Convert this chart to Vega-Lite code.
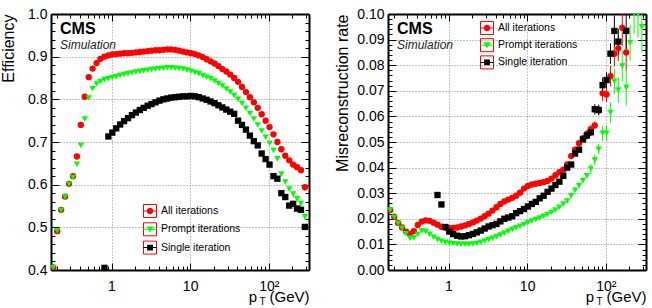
{
  "$schema": "https://vega.github.io/schema/vega-lite/v6.json",
  "autosize": {"type": "none"},
  "padding": {"left": 51, "top": 14, "right": 601, "bottom": 294},
  "bounds": "flush",
  "spacing": 79,
  "config": {
    "font": "Liberation Sans",
    "view": {"stroke": null},
    "axis": {
      "labelFont": "Liberation Sans",
      "titleFont": "Liberation Sans",
      "labelColor": "black",
      "titleColor": "black",
      "tickColor": "black",
      "domainColor": "black",
      "labelFontSize": 14,
      "titleFontWeight": "normal",
      "labelFlush": false,
      "labelOverlap": false,
      "tickWidth": 1
    },
    "legend": {"labelFont": "Liberation Sans", "labelColor": "black", "labelFontSize": 10.5}
  },
  "datasets": {
    "efficiency": [
      {"s": "All iterations", "pt": 0.182, "v": 0.406, "e": 0.001},
      {"s": "All iterations", "pt": 0.204, "v": 0.491, "e": 0.001},
      {"s": "All iterations", "pt": 0.229, "v": 0.541, "e": 0.001},
      {"s": "All iterations", "pt": 0.257, "v": 0.572, "e": 0.001},
      {"s": "All iterations", "pt": 0.288, "v": 0.602, "e": 0.001},
      {"s": "All iterations", "pt": 0.324, "v": 0.620, "e": 0.001},
      {"s": "All iterations", "pt": 0.363, "v": 0.666, "e": 0.001},
      {"s": "All iterations", "pt": 0.407, "v": 0.740, "e": 0.001},
      {"s": "All iterations", "pt": 0.457, "v": 0.806, "e": 0.001},
      {"s": "All iterations", "pt": 0.513, "v": 0.852, "e": 0.001},
      {"s": "All iterations", "pt": 0.575, "v": 0.872, "e": 0.001},
      {"s": "All iterations", "pt": 0.646, "v": 0.885, "e": 0.001},
      {"s": "All iterations", "pt": 0.724, "v": 0.895, "e": 0.001},
      {"s": "All iterations", "pt": 0.813, "v": 0.900, "e": 0.001},
      {"s": "All iterations", "pt": 0.912, "v": 0.903, "e": 0.001},
      {"s": "All iterations", "pt": 1.023, "v": 0.905, "e": 0.001},
      {"s": "All iterations", "pt": 1.148, "v": 0.906, "e": 0.001},
      {"s": "All iterations", "pt": 1.288, "v": 0.907, "e": 0.001},
      {"s": "All iterations", "pt": 1.445, "v": 0.908, "e": 0.001},
      {"s": "All iterations", "pt": 1.622, "v": 0.908, "e": 0.001},
      {"s": "All iterations", "pt": 1.820, "v": 0.909, "e": 0.001},
      {"s": "All iterations", "pt": 2.042, "v": 0.910, "e": 0.001},
      {"s": "All iterations", "pt": 2.291, "v": 0.911, "e": 0.001},
      {"s": "All iterations", "pt": 2.570, "v": 0.912, "e": 0.001},
      {"s": "All iterations", "pt": 2.884, "v": 0.913, "e": 0.001},
      {"s": "All iterations", "pt": 3.236, "v": 0.914, "e": 0.001},
      {"s": "All iterations", "pt": 3.631, "v": 0.915, "e": 0.001},
      {"s": "All iterations", "pt": 4.074, "v": 0.915, "e": 0.001},
      {"s": "All iterations", "pt": 4.571, "v": 0.916, "e": 0.001},
      {"s": "All iterations", "pt": 5.129, "v": 0.917, "e": 0.001},
      {"s": "All iterations", "pt": 5.754, "v": 0.917, "e": 0.001},
      {"s": "All iterations", "pt": 6.457, "v": 0.916, "e": 0.001},
      {"s": "All iterations", "pt": 7.244, "v": 0.914, "e": 0.001},
      {"s": "All iterations", "pt": 8.128, "v": 0.912, "e": 0.001},
      {"s": "All iterations", "pt": 9.120, "v": 0.910, "e": 0.001},
      {"s": "All iterations", "pt": 10.23, "v": 0.908, "e": 0.001},
      {"s": "All iterations", "pt": 11.48, "v": 0.906, "e": 0.001},
      {"s": "All iterations", "pt": 12.88, "v": 0.903, "e": 0.001},
      {"s": "All iterations", "pt": 14.45, "v": 0.899, "e": 0.001},
      {"s": "All iterations", "pt": 16.22, "v": 0.894, "e": 0.001},
      {"s": "All iterations", "pt": 18.20, "v": 0.889, "e": 0.001},
      {"s": "All iterations", "pt": 20.42, "v": 0.884, "e": 0.001},
      {"s": "All iterations", "pt": 22.91, "v": 0.878, "e": 0.001},
      {"s": "All iterations", "pt": 25.70, "v": 0.871, "e": 0.001},
      {"s": "All iterations", "pt": 28.84, "v": 0.865, "e": 0.001},
      {"s": "All iterations", "pt": 32.36, "v": 0.858, "e": 0.001},
      {"s": "All iterations", "pt": 36.31, "v": 0.850, "e": 0.001},
      {"s": "All iterations", "pt": 40.74, "v": 0.841, "e": 0.001},
      {"s": "All iterations", "pt": 45.71, "v": 0.829, "e": 0.001},
      {"s": "All iterations", "pt": 51.29, "v": 0.817, "e": 0.001},
      {"s": "All iterations", "pt": 57.54, "v": 0.805, "e": 0.001},
      {"s": "All iterations", "pt": 64.57, "v": 0.793, "e": 0.002},
      {"s": "All iterations", "pt": 72.44, "v": 0.780, "e": 0.002},
      {"s": "All iterations", "pt": 81.28, "v": 0.765, "e": 0.002},
      {"s": "All iterations", "pt": 91.20, "v": 0.750, "e": 0.002},
      {"s": "All iterations", "pt": 102.3, "v": 0.735, "e": 0.002},
      {"s": "All iterations", "pt": 114.8, "v": 0.718, "e": 0.004},
      {"s": "All iterations", "pt": 128.8, "v": 0.700, "e": 0.004},
      {"s": "All iterations", "pt": 144.5, "v": 0.683, "e": 0.004},
      {"s": "All iterations", "pt": 162.2, "v": 0.668, "e": 0.004},
      {"s": "All iterations", "pt": 182.0, "v": 0.657, "e": 0.004},
      {"s": "All iterations", "pt": 204.2, "v": 0.647, "e": 0.007},
      {"s": "All iterations", "pt": 229.1, "v": 0.641, "e": 0.007},
      {"s": "All iterations", "pt": 257.0, "v": 0.634, "e": 0.007},
      {"s": "All iterations", "pt": 288.4, "v": 0.594, "e": 0.007},
      {"s": "Prompt iterations", "pt": 0.182, "v": 0.406, "e": 0.001},
      {"s": "Prompt iterations", "pt": 0.204, "v": 0.492, "e": 0.001},
      {"s": "Prompt iterations", "pt": 0.229, "v": 0.540, "e": 0.001},
      {"s": "Prompt iterations", "pt": 0.257, "v": 0.571, "e": 0.001},
      {"s": "Prompt iterations", "pt": 0.288, "v": 0.601, "e": 0.001},
      {"s": "Prompt iterations", "pt": 0.324, "v": 0.617, "e": 0.001},
      {"s": "Prompt iterations", "pt": 0.363, "v": 0.648, "e": 0.001},
      {"s": "Prompt iterations", "pt": 0.407, "v": 0.692, "e": 0.001},
      {"s": "Prompt iterations", "pt": 0.457, "v": 0.754, "e": 0.001},
      {"s": "Prompt iterations", "pt": 0.513, "v": 0.803, "e": 0.001},
      {"s": "Prompt iterations", "pt": 0.575, "v": 0.825, "e": 0.001},
      {"s": "Prompt iterations", "pt": 0.646, "v": 0.836, "e": 0.001},
      {"s": "Prompt iterations", "pt": 0.724, "v": 0.842, "e": 0.001},
      {"s": "Prompt iterations", "pt": 0.813, "v": 0.846, "e": 0.001},
      {"s": "Prompt iterations", "pt": 0.912, "v": 0.848, "e": 0.001},
      {"s": "Prompt iterations", "pt": 1.023, "v": 0.851, "e": 0.001},
      {"s": "Prompt iterations", "pt": 1.148, "v": 0.853, "e": 0.001},
      {"s": "Prompt iterations", "pt": 1.288, "v": 0.856, "e": 0.001},
      {"s": "Prompt iterations", "pt": 1.445, "v": 0.858, "e": 0.001},
      {"s": "Prompt iterations", "pt": 1.622, "v": 0.860, "e": 0.001},
      {"s": "Prompt iterations", "pt": 1.820, "v": 0.862, "e": 0.001},
      {"s": "Prompt iterations", "pt": 2.042, "v": 0.864, "e": 0.001},
      {"s": "Prompt iterations", "pt": 2.291, "v": 0.865, "e": 0.001},
      {"s": "Prompt iterations", "pt": 2.570, "v": 0.867, "e": 0.001},
      {"s": "Prompt iterations", "pt": 2.884, "v": 0.868, "e": 0.001},
      {"s": "Prompt iterations", "pt": 3.236, "v": 0.870, "e": 0.001},
      {"s": "Prompt iterations", "pt": 3.631, "v": 0.871, "e": 0.001},
      {"s": "Prompt iterations", "pt": 4.074, "v": 0.872, "e": 0.001},
      {"s": "Prompt iterations", "pt": 4.571, "v": 0.873, "e": 0.001},
      {"s": "Prompt iterations", "pt": 5.129, "v": 0.874, "e": 0.001},
      {"s": "Prompt iterations", "pt": 5.754, "v": 0.874, "e": 0.001},
      {"s": "Prompt iterations", "pt": 6.457, "v": 0.873, "e": 0.001},
      {"s": "Prompt iterations", "pt": 7.244, "v": 0.872, "e": 0.001},
      {"s": "Prompt iterations", "pt": 8.128, "v": 0.871, "e": 0.001},
      {"s": "Prompt iterations", "pt": 9.120, "v": 0.869, "e": 0.001},
      {"s": "Prompt iterations", "pt": 10.23, "v": 0.866, "e": 0.001},
      {"s": "Prompt iterations", "pt": 11.48, "v": 0.863, "e": 0.001},
      {"s": "Prompt iterations", "pt": 12.88, "v": 0.860, "e": 0.001},
      {"s": "Prompt iterations", "pt": 14.45, "v": 0.856, "e": 0.001},
      {"s": "Prompt iterations", "pt": 16.22, "v": 0.852, "e": 0.001},
      {"s": "Prompt iterations", "pt": 18.20, "v": 0.848, "e": 0.001},
      {"s": "Prompt iterations", "pt": 20.42, "v": 0.843, "e": 0.001},
      {"s": "Prompt iterations", "pt": 22.91, "v": 0.837, "e": 0.001},
      {"s": "Prompt iterations", "pt": 25.70, "v": 0.831, "e": 0.001},
      {"s": "Prompt iterations", "pt": 28.84, "v": 0.824, "e": 0.001},
      {"s": "Prompt iterations", "pt": 32.36, "v": 0.817, "e": 0.001},
      {"s": "Prompt iterations", "pt": 36.31, "v": 0.809, "e": 0.001},
      {"s": "Prompt iterations", "pt": 40.74, "v": 0.800, "e": 0.001},
      {"s": "Prompt iterations", "pt": 45.71, "v": 0.790, "e": 0.001},
      {"s": "Prompt iterations", "pt": 51.29, "v": 0.779, "e": 0.001},
      {"s": "Prompt iterations", "pt": 57.54, "v": 0.767, "e": 0.001},
      {"s": "Prompt iterations", "pt": 64.57, "v": 0.754, "e": 0.002},
      {"s": "Prompt iterations", "pt": 72.44, "v": 0.740, "e": 0.002},
      {"s": "Prompt iterations", "pt": 81.28, "v": 0.726, "e": 0.002},
      {"s": "Prompt iterations", "pt": 91.20, "v": 0.711, "e": 0.002},
      {"s": "Prompt iterations", "pt": 102.3, "v": 0.697, "e": 0.002},
      {"s": "Prompt iterations", "pt": 114.8, "v": 0.680, "e": 0.004},
      {"s": "Prompt iterations", "pt": 128.8, "v": 0.661, "e": 0.004},
      {"s": "Prompt iterations", "pt": 144.5, "v": 0.625, "e": 0.004},
      {"s": "Prompt iterations", "pt": 162.2, "v": 0.606, "e": 0.004},
      {"s": "Prompt iterations", "pt": 182.0, "v": 0.590, "e": 0.004},
      {"s": "Prompt iterations", "pt": 204.2, "v": 0.578, "e": 0.007},
      {"s": "Prompt iterations", "pt": 229.1, "v": 0.567, "e": 0.007},
      {"s": "Prompt iterations", "pt": 257.0, "v": 0.556, "e": 0.007},
      {"s": "Prompt iterations", "pt": 288.4, "v": 0.525, "e": 0.007},
      {"s": "Single iteration", "pt": 0.813, "v": 0.405, "e": 0.004},
      {"s": "Single iteration", "pt": 0.912, "v": 0.713, "e": 0.001},
      {"s": "Single iteration", "pt": 1.023, "v": 0.722, "e": 0.001},
      {"s": "Single iteration", "pt": 1.148, "v": 0.732, "e": 0.001},
      {"s": "Single iteration", "pt": 1.288, "v": 0.741, "e": 0.001},
      {"s": "Single iteration", "pt": 1.445, "v": 0.749, "e": 0.001},
      {"s": "Single iteration", "pt": 1.622, "v": 0.756, "e": 0.001},
      {"s": "Single iteration", "pt": 1.820, "v": 0.763, "e": 0.001},
      {"s": "Single iteration", "pt": 2.042, "v": 0.769, "e": 0.001},
      {"s": "Single iteration", "pt": 2.291, "v": 0.775, "e": 0.001},
      {"s": "Single iteration", "pt": 2.570, "v": 0.780, "e": 0.001},
      {"s": "Single iteration", "pt": 2.884, "v": 0.785, "e": 0.001},
      {"s": "Single iteration", "pt": 3.236, "v": 0.789, "e": 0.001},
      {"s": "Single iteration", "pt": 3.631, "v": 0.793, "e": 0.001},
      {"s": "Single iteration", "pt": 4.074, "v": 0.797, "e": 0.001},
      {"s": "Single iteration", "pt": 4.571, "v": 0.800, "e": 0.001},
      {"s": "Single iteration", "pt": 5.129, "v": 0.802, "e": 0.001},
      {"s": "Single iteration", "pt": 5.754, "v": 0.804, "e": 0.001},
      {"s": "Single iteration", "pt": 6.457, "v": 0.805, "e": 0.001},
      {"s": "Single iteration", "pt": 7.244, "v": 0.806, "e": 0.001},
      {"s": "Single iteration", "pt": 8.128, "v": 0.807, "e": 0.001},
      {"s": "Single iteration", "pt": 9.120, "v": 0.807, "e": 0.001},
      {"s": "Single iteration", "pt": 10.23, "v": 0.808, "e": 0.001},
      {"s": "Single iteration", "pt": 11.48, "v": 0.807, "e": 0.001},
      {"s": "Single iteration", "pt": 12.88, "v": 0.805, "e": 0.001},
      {"s": "Single iteration", "pt": 14.45, "v": 0.802, "e": 0.001},
      {"s": "Single iteration", "pt": 16.22, "v": 0.799, "e": 0.001},
      {"s": "Single iteration", "pt": 18.20, "v": 0.795, "e": 0.001},
      {"s": "Single iteration", "pt": 20.42, "v": 0.791, "e": 0.001},
      {"s": "Single iteration", "pt": 22.91, "v": 0.786, "e": 0.001},
      {"s": "Single iteration", "pt": 25.70, "v": 0.781, "e": 0.001},
      {"s": "Single iteration", "pt": 28.84, "v": 0.776, "e": 0.001},
      {"s": "Single iteration", "pt": 32.36, "v": 0.771, "e": 0.001},
      {"s": "Single iteration", "pt": 36.31, "v": 0.766, "e": 0.001},
      {"s": "Single iteration", "pt": 40.74, "v": 0.750, "e": 0.001},
      {"s": "Single iteration", "pt": 45.71, "v": 0.740, "e": 0.001},
      {"s": "Single iteration", "pt": 51.29, "v": 0.729, "e": 0.001},
      {"s": "Single iteration", "pt": 57.54, "v": 0.715, "e": 0.001},
      {"s": "Single iteration", "pt": 64.57, "v": 0.702, "e": 0.002},
      {"s": "Single iteration", "pt": 72.44, "v": 0.692, "e": 0.002},
      {"s": "Single iteration", "pt": 81.28, "v": 0.673, "e": 0.002},
      {"s": "Single iteration", "pt": 91.20, "v": 0.660, "e": 0.002},
      {"s": "Single iteration", "pt": 102.3, "v": 0.647, "e": 0.002},
      {"s": "Single iteration", "pt": 114.8, "v": 0.620, "e": 0.004},
      {"s": "Single iteration", "pt": 128.8, "v": 0.614, "e": 0.004},
      {"s": "Single iteration", "pt": 144.5, "v": 0.580, "e": 0.004},
      {"s": "Single iteration", "pt": 162.2, "v": 0.571, "e": 0.004},
      {"s": "Single iteration", "pt": 182.0, "v": 0.551, "e": 0.004},
      {"s": "Single iteration", "pt": 204.2, "v": 0.555, "e": 0.007},
      {"s": "Single iteration", "pt": 229.1, "v": 0.544, "e": 0.007},
      {"s": "Single iteration", "pt": 257.0, "v": 0.541, "e": 0.007},
      {"s": "Single iteration", "pt": 288.4, "v": 0.501, "e": 0.007}
    ],
    "misreco": [
      {"s": "All iterations", "pt": 0.182, "v": 0.0234, "e": 0.0004},
      {"s": "All iterations", "pt": 0.204, "v": 0.0208, "e": 0.0004},
      {"s": "All iterations", "pt": 0.229, "v": 0.0184, "e": 0.0004},
      {"s": "All iterations", "pt": 0.257, "v": 0.0166, "e": 0.0004},
      {"s": "All iterations", "pt": 0.288, "v": 0.0150, "e": 0.0004},
      {"s": "All iterations", "pt": 0.324, "v": 0.0141, "e": 0.0004},
      {"s": "All iterations", "pt": 0.363, "v": 0.0152, "e": 0.0004},
      {"s": "All iterations", "pt": 0.407, "v": 0.0176, "e": 0.0004},
      {"s": "All iterations", "pt": 0.457, "v": 0.0189, "e": 0.0004},
      {"s": "All iterations", "pt": 0.513, "v": 0.0194, "e": 0.0004},
      {"s": "All iterations", "pt": 0.575, "v": 0.0192, "e": 0.0004},
      {"s": "All iterations", "pt": 0.646, "v": 0.0185, "e": 0.0004},
      {"s": "All iterations", "pt": 0.724, "v": 0.0177, "e": 0.0004},
      {"s": "All iterations", "pt": 0.813, "v": 0.0169, "e": 0.0004},
      {"s": "All iterations", "pt": 0.912, "v": 0.0165, "e": 0.0004},
      {"s": "All iterations", "pt": 1.023, "v": 0.0163, "e": 0.0004},
      {"s": "All iterations", "pt": 1.148, "v": 0.0164, "e": 0.0004},
      {"s": "All iterations", "pt": 1.288, "v": 0.0166, "e": 0.0004},
      {"s": "All iterations", "pt": 1.445, "v": 0.0170, "e": 0.0004},
      {"s": "All iterations", "pt": 1.622, "v": 0.0174, "e": 0.0004},
      {"s": "All iterations", "pt": 1.820, "v": 0.0180, "e": 0.0004},
      {"s": "All iterations", "pt": 2.042, "v": 0.0186, "e": 0.0004},
      {"s": "All iterations", "pt": 2.291, "v": 0.0193, "e": 0.0004},
      {"s": "All iterations", "pt": 2.570, "v": 0.0201, "e": 0.0004},
      {"s": "All iterations", "pt": 2.884, "v": 0.0210, "e": 0.0004},
      {"s": "All iterations", "pt": 3.236, "v": 0.0220, "e": 0.0004},
      {"s": "All iterations", "pt": 3.631, "v": 0.0232, "e": 0.0004},
      {"s": "All iterations", "pt": 4.074, "v": 0.0245, "e": 0.0004},
      {"s": "All iterations", "pt": 4.571, "v": 0.0258, "e": 0.0004},
      {"s": "All iterations", "pt": 5.129, "v": 0.0268, "e": 0.0004},
      {"s": "All iterations", "pt": 5.754, "v": 0.0275, "e": 0.0004},
      {"s": "All iterations", "pt": 6.457, "v": 0.0282, "e": 0.0004},
      {"s": "All iterations", "pt": 7.244, "v": 0.0290, "e": 0.0004},
      {"s": "All iterations", "pt": 8.128, "v": 0.0302, "e": 0.0004},
      {"s": "All iterations", "pt": 9.120, "v": 0.0318, "e": 0.0004},
      {"s": "All iterations", "pt": 10.23, "v": 0.0328, "e": 0.0004},
      {"s": "All iterations", "pt": 11.48, "v": 0.0334, "e": 0.0004},
      {"s": "All iterations", "pt": 12.88, "v": 0.0337, "e": 0.0004},
      {"s": "All iterations", "pt": 14.45, "v": 0.0340, "e": 0.0004},
      {"s": "All iterations", "pt": 16.22, "v": 0.0343, "e": 0.0004},
      {"s": "All iterations", "pt": 18.20, "v": 0.0348, "e": 0.0004},
      {"s": "All iterations", "pt": 20.42, "v": 0.0357, "e": 0.0004},
      {"s": "All iterations", "pt": 22.91, "v": 0.0370, "e": 0.0004},
      {"s": "All iterations", "pt": 25.70, "v": 0.0382, "e": 0.0004},
      {"s": "All iterations", "pt": 28.84, "v": 0.0392, "e": 0.0004},
      {"s": "All iterations", "pt": 32.36, "v": 0.0412, "e": 0.001},
      {"s": "All iterations", "pt": 36.31, "v": 0.0445, "e": 0.001},
      {"s": "All iterations", "pt": 40.74, "v": 0.0470, "e": 0.001},
      {"s": "All iterations", "pt": 45.71, "v": 0.0495, "e": 0.001},
      {"s": "All iterations", "pt": 51.29, "v": 0.0515, "e": 0.001},
      {"s": "All iterations", "pt": 57.54, "v": 0.0532, "e": 0.0015},
      {"s": "All iterations", "pt": 64.57, "v": 0.0550, "e": 0.0015},
      {"s": "All iterations", "pt": 72.44, "v": 0.0565, "e": 0.0015},
      {"s": "All iterations", "pt": 81.28, "v": 0.0625, "e": 0.002},
      {"s": "All iterations", "pt": 91.20, "v": 0.0690, "e": 0.003},
      {"s": "All iterations", "pt": 102.3, "v": 0.0686, "e": 0.003},
      {"s": "All iterations", "pt": 114.8, "v": 0.0757, "e": 0.004},
      {"s": "All iterations", "pt": 128.8, "v": 0.0845, "e": 0.005},
      {"s": "All iterations", "pt": 144.5, "v": 0.0866, "e": 0.005},
      {"s": "All iterations", "pt": 162.2, "v": 0.0946, "e": 0.007},
      {"s": "All iterations", "pt": 182.0, "v": 0.0850, "e": 0.007},
      {"s": "Prompt iterations", "pt": 0.182, "v": 0.0234, "e": 0.0004},
      {"s": "Prompt iterations", "pt": 0.204, "v": 0.0206, "e": 0.0004},
      {"s": "Prompt iterations", "pt": 0.229, "v": 0.0182, "e": 0.0004},
      {"s": "Prompt iterations", "pt": 0.257, "v": 0.0163, "e": 0.0004},
      {"s": "Prompt iterations", "pt": 0.288, "v": 0.0142, "e": 0.0004},
      {"s": "Prompt iterations", "pt": 0.324, "v": 0.0124, "e": 0.0004},
      {"s": "Prompt iterations", "pt": 0.363, "v": 0.0126, "e": 0.0004},
      {"s": "Prompt iterations", "pt": 0.407, "v": 0.0140, "e": 0.0004},
      {"s": "Prompt iterations", "pt": 0.457, "v": 0.0153, "e": 0.0004},
      {"s": "Prompt iterations", "pt": 0.513, "v": 0.0150, "e": 0.0004},
      {"s": "Prompt iterations", "pt": 0.575, "v": 0.0140, "e": 0.0004},
      {"s": "Prompt iterations", "pt": 0.646, "v": 0.0128, "e": 0.0004},
      {"s": "Prompt iterations", "pt": 0.724, "v": 0.0119, "e": 0.0004},
      {"s": "Prompt iterations", "pt": 0.813, "v": 0.0112, "e": 0.0004},
      {"s": "Prompt iterations", "pt": 0.912, "v": 0.0108, "e": 0.0004},
      {"s": "Prompt iterations", "pt": 1.023, "v": 0.0105, "e": 0.0004},
      {"s": "Prompt iterations", "pt": 1.148, "v": 0.0103, "e": 0.0004},
      {"s": "Prompt iterations", "pt": 1.288, "v": 0.0102, "e": 0.0004},
      {"s": "Prompt iterations", "pt": 1.445, "v": 0.0101, "e": 0.0004},
      {"s": "Prompt iterations", "pt": 1.622, "v": 0.0101, "e": 0.0004},
      {"s": "Prompt iterations", "pt": 1.820, "v": 0.0101, "e": 0.0004},
      {"s": "Prompt iterations", "pt": 2.042, "v": 0.0102, "e": 0.0004},
      {"s": "Prompt iterations", "pt": 2.291, "v": 0.0104, "e": 0.0004},
      {"s": "Prompt iterations", "pt": 2.570, "v": 0.0108, "e": 0.0004},
      {"s": "Prompt iterations", "pt": 2.884, "v": 0.0113, "e": 0.0004},
      {"s": "Prompt iterations", "pt": 3.236, "v": 0.0118, "e": 0.0004},
      {"s": "Prompt iterations", "pt": 3.631, "v": 0.0124, "e": 0.0004},
      {"s": "Prompt iterations", "pt": 4.074, "v": 0.0130, "e": 0.0004},
      {"s": "Prompt iterations", "pt": 4.571, "v": 0.0137, "e": 0.0004},
      {"s": "Prompt iterations", "pt": 5.129, "v": 0.0144, "e": 0.0004},
      {"s": "Prompt iterations", "pt": 5.754, "v": 0.0151, "e": 0.0004},
      {"s": "Prompt iterations", "pt": 6.457, "v": 0.0158, "e": 0.0004},
      {"s": "Prompt iterations", "pt": 7.244, "v": 0.0165, "e": 0.0004},
      {"s": "Prompt iterations", "pt": 8.128, "v": 0.0171, "e": 0.0004},
      {"s": "Prompt iterations", "pt": 9.120, "v": 0.0178, "e": 0.0004},
      {"s": "Prompt iterations", "pt": 10.23, "v": 0.0185, "e": 0.0004},
      {"s": "Prompt iterations", "pt": 11.48, "v": 0.0191, "e": 0.0004},
      {"s": "Prompt iterations", "pt": 12.88, "v": 0.0197, "e": 0.0004},
      {"s": "Prompt iterations", "pt": 14.45, "v": 0.0203, "e": 0.0004},
      {"s": "Prompt iterations", "pt": 16.22, "v": 0.0210, "e": 0.0004},
      {"s": "Prompt iterations", "pt": 18.20, "v": 0.0217, "e": 0.0004},
      {"s": "Prompt iterations", "pt": 20.42, "v": 0.0225, "e": 0.0004},
      {"s": "Prompt iterations", "pt": 22.91, "v": 0.0234, "e": 0.0004},
      {"s": "Prompt iterations", "pt": 25.70, "v": 0.0245, "e": 0.0004},
      {"s": "Prompt iterations", "pt": 28.84, "v": 0.0258, "e": 0.0004},
      {"s": "Prompt iterations", "pt": 32.36, "v": 0.0270, "e": 0.001},
      {"s": "Prompt iterations", "pt": 36.31, "v": 0.0290, "e": 0.001},
      {"s": "Prompt iterations", "pt": 40.74, "v": 0.0312, "e": 0.001},
      {"s": "Prompt iterations", "pt": 45.71, "v": 0.0330, "e": 0.001},
      {"s": "Prompt iterations", "pt": 51.29, "v": 0.0350, "e": 0.001},
      {"s": "Prompt iterations", "pt": 57.54, "v": 0.0368, "e": 0.001},
      {"s": "Prompt iterations", "pt": 64.57, "v": 0.0395, "e": 0.002},
      {"s": "Prompt iterations", "pt": 72.44, "v": 0.0430, "e": 0.002},
      {"s": "Prompt iterations", "pt": 81.28, "v": 0.0472, "e": 0.002},
      {"s": "Prompt iterations", "pt": 91.20, "v": 0.0534, "e": 0.003},
      {"s": "Prompt iterations", "pt": 102.3, "v": 0.0534, "e": 0.003},
      {"s": "Prompt iterations", "pt": 114.8, "v": 0.0615, "e": 0.004},
      {"s": "Prompt iterations", "pt": 128.8, "v": 0.0736, "e": 0.005},
      {"s": "Prompt iterations", "pt": 144.5, "v": 0.0703, "e": 0.005},
      {"s": "Prompt iterations", "pt": 162.2, "v": 0.0797, "e": 0.006},
      {"s": "Prompt iterations", "pt": 182.0, "v": 0.0713, "e": 0.007},
      {"s": "Prompt iterations", "pt": 204.2, "v": 0.0888, "e": 0.007},
      {"s": "Prompt iterations", "pt": 229.1, "v": 0.1002, "e": 0.008},
      {"s": "Prompt iterations", "pt": 257.0, "v": 0.0998, "e": 0.009},
      {"s": "Prompt iterations", "pt": 288.4, "v": 0.0950, "e": 0.010},
      {"s": "Single iteration", "pt": 0.724, "v": 0.0293, "e": 0.001},
      {"s": "Single iteration", "pt": 0.813, "v": 0.0256, "e": 0.001},
      {"s": "Single iteration", "pt": 0.912, "v": 0.0168, "e": 0.0004},
      {"s": "Single iteration", "pt": 1.023, "v": 0.0150, "e": 0.0004},
      {"s": "Single iteration", "pt": 1.148, "v": 0.0140, "e": 0.0004},
      {"s": "Single iteration", "pt": 1.288, "v": 0.0134, "e": 0.0004},
      {"s": "Single iteration", "pt": 1.445, "v": 0.0131, "e": 0.0004},
      {"s": "Single iteration", "pt": 1.622, "v": 0.0132, "e": 0.0004},
      {"s": "Single iteration", "pt": 1.820, "v": 0.0136, "e": 0.0004},
      {"s": "Single iteration", "pt": 2.042, "v": 0.0141, "e": 0.0004},
      {"s": "Single iteration", "pt": 2.291, "v": 0.0147, "e": 0.0004},
      {"s": "Single iteration", "pt": 2.570, "v": 0.0154, "e": 0.0004},
      {"s": "Single iteration", "pt": 2.884, "v": 0.0162, "e": 0.0004},
      {"s": "Single iteration", "pt": 3.236, "v": 0.0170, "e": 0.0004},
      {"s": "Single iteration", "pt": 3.631, "v": 0.0175, "e": 0.0004},
      {"s": "Single iteration", "pt": 4.074, "v": 0.0180, "e": 0.0004},
      {"s": "Single iteration", "pt": 4.571, "v": 0.0190, "e": 0.0004},
      {"s": "Single iteration", "pt": 5.129, "v": 0.0200, "e": 0.0004},
      {"s": "Single iteration", "pt": 5.754, "v": 0.0205, "e": 0.0004},
      {"s": "Single iteration", "pt": 6.457, "v": 0.0210, "e": 0.0004},
      {"s": "Single iteration", "pt": 7.244, "v": 0.0222, "e": 0.0004},
      {"s": "Single iteration", "pt": 8.128, "v": 0.0230, "e": 0.0004},
      {"s": "Single iteration", "pt": 9.120, "v": 0.0238, "e": 0.0004},
      {"s": "Single iteration", "pt": 10.23, "v": 0.0248, "e": 0.0004},
      {"s": "Single iteration", "pt": 11.48, "v": 0.0258, "e": 0.0004},
      {"s": "Single iteration", "pt": 12.88, "v": 0.0266, "e": 0.0004},
      {"s": "Single iteration", "pt": 14.45, "v": 0.0280, "e": 0.0004},
      {"s": "Single iteration", "pt": 16.22, "v": 0.0290, "e": 0.0004},
      {"s": "Single iteration", "pt": 18.20, "v": 0.0305, "e": 0.0004},
      {"s": "Single iteration", "pt": 20.42, "v": 0.0318, "e": 0.0004},
      {"s": "Single iteration", "pt": 22.91, "v": 0.0332, "e": 0.0004},
      {"s": "Single iteration", "pt": 25.70, "v": 0.0345, "e": 0.0004},
      {"s": "Single iteration", "pt": 28.84, "v": 0.0368, "e": 0.0004},
      {"s": "Single iteration", "pt": 32.36, "v": 0.0400, "e": 0.001},
      {"s": "Single iteration", "pt": 36.31, "v": 0.0412, "e": 0.001},
      {"s": "Single iteration", "pt": 40.74, "v": 0.0455, "e": 0.001},
      {"s": "Single iteration", "pt": 45.71, "v": 0.0470, "e": 0.001},
      {"s": "Single iteration", "pt": 51.29, "v": 0.0510, "e": 0.001},
      {"s": "Single iteration", "pt": 57.54, "v": 0.0525, "e": 0.0015},
      {"s": "Single iteration", "pt": 64.57, "v": 0.0538, "e": 0.0015},
      {"s": "Single iteration", "pt": 72.44, "v": 0.0628, "e": 0.002},
      {"s": "Single iteration", "pt": 81.28, "v": 0.0625, "e": 0.002},
      {"s": "Single iteration", "pt": 91.20, "v": 0.0722, "e": 0.003},
      {"s": "Single iteration", "pt": 102.3, "v": 0.0742, "e": 0.003},
      {"s": "Single iteration", "pt": 114.8, "v": 0.0845, "e": 0.004},
      {"s": "Single iteration", "pt": 128.8, "v": 0.0934, "e": 0.006},
      {"s": "Single iteration", "pt": 144.5, "v": 0.0892, "e": 0.005},
      {"s": "Single iteration", "pt": 182.0, "v": 0.0934, "e": 0.007}
    ]
  },
  "hconcat": [
    {
      "width": 258,
      "height": 256,
      "data": {"name": "efficiency"},
      "title": {"text": "CMS", "subtitle": "Simulation", "anchor": "start", "frame": "group", "orient": "top", "offset": -44, "dx": 9, "font": "Liberation Sans", "fontSize": 16, "fontWeight": "bold", "color": "black", "subtitleFont": "Liberation Sans", "subtitleFontSize": 12, "subtitleFontStyle": "italic", "subtitleColor": "#222", "subtitlePadding": 3},
      "resolve": {
        "scale": {"color": "independent", "shape": "independent"},
        "axis": {"x": "independent", "y": "independent"},
        "legend": {"color": "independent", "shape": "independent"}
      },
      "layer": [
        {
          "mark": {"type": "errorbar", "ticks": false, "thickness": 1, "clip": true},
          "encoding": {
            "x": {"field": "pt", "type": "quantitative", "scale": {"type": "log", "domain": [0.17, 325], "nice": false}, "axis": null},
            "y": {"field": "v", "type": "quantitative", "scale": {"domain": [0.4, 1.0], "nice": false, "zero": false}, "axis": null},
            "yError": {"field": "e"},
            "color": {"field": "s", "type": "nominal", "scale": {"domain": ["All iterations", "Prompt iterations", "Single iteration"], "range": ["#ff0000", "#00ff00", "#000000"]}, "legend": null}
          }
        },
        {
          "mark": {"type": "point", "filled": true, "size": 40, "opacity": 1, "clip": true},
          "encoding": {
            "x": {"field": "pt", "type": "quantitative", "scale": {"type": "log", "domain": [0.17, 325], "nice": false},
              "axis": {"orient": "bottom", "values": [1, 10, 100], "labelExpr": "datum.value == 1 ? '1' : datum.value == 10 ? '10' : '10²'", "labelPadding": 9, "ticks": false, "domain": true, "domainWidth": 2, "grid": true, "gridColor": "#888", "gridDash": [1, 2], "gridWidth": 1, "title": "p\u00a0\u00a0\u00a0(GeV)", "titleFontSize": 15, "titleX": 258, "titleY": 31, "titleAlign": "right", "titleBaseline": "alphabetic"}},
            "y": {"field": "v", "type": "quantitative", "scale": {"domain": [0.4, 1.0], "nice": false, "zero": false},
              "axis": {"orient": "left", "values": [0.4, 0.5, 0.6, 0.7, 0.8, 0.9, 1.0], "format": ".1f", "labelPadding": 4, "ticks": false, "domain": true, "domainWidth": 2, "grid": true, "gridColor": "#888", "gridDash": [1, 2], "gridWidth": 1, "title": "Efficiency", "titleFontSize": 16, "titleAngle": -90, "titleX": -38, "titleY": 0, "titleAlign": "right", "titleBaseline": "alphabetic"}},
            "color": {"field": "s", "type": "nominal", "scale": {"domain": ["All iterations", "Prompt iterations", "Single iteration"], "range": ["#ff0000", "#00ff00", "#000000"]}, "legend": null},
            "shape": {"field": "s", "type": "nominal", "scale": {"domain": ["All iterations", "Prompt iterations", "Single iteration"], "range": ["circle", "triangle-down", "square"]}, "legend": null}
          }
        },
        {
          "transform": [{"filter": "false"}],
          "mark": {"type": "point", "filled": false, "color": "#ff0000", "strokeWidth": 1},
          "encoding": {
            "x": {"field": "pt", "type": "quantitative", "scale": {"type": "log", "domain": [0.17, 325], "nice": false},
              "axis": {"orient": "bottom", "values": [1, 10, 100], "labels": false, "ticks": true, "tickSize": -7, "domain": false, "grid": false, "title": "T", "titleFontSize": 10, "titleX": 208, "titleY": 34, "titleAlign": "left", "titleBaseline": "alphabetic"}},
            "y": {"field": "v", "type": "quantitative", "scale": {"domain": [0.4, 1.0], "nice": false, "zero": false},
              "axis": {"orient": "left", "values": [0.4, 0.5, 0.6, 0.7, 0.8, 0.9, 1.0], "labels": false, "ticks": true, "tickSize": -8, "domain": false, "grid": false, "title": null}},
            "shape": {"field": "s", "type": "nominal", "scale": {"domain": ["All iterations", "Prompt iterations", "Single iteration"], "range": ["square", "square", "square"]},
              "legend": {"orient": "none", "legendX": 92, "legendY": 190, "title": null, "padding": 0, "symbolSize": 169, "symbolStrokeColor": "#ff0000", "symbolStrokeWidth": 1, "symbolFillColor": "transparent", "symbolOpacity": 1, "labelOpacity": 0, "rowPadding": 0.3, "labelOffset": 4, "labelFontSize": 10.5}}
          }
        },
        {
          "transform": [{"filter": "false"}],
          "mark": {"type": "point", "filled": true},
          "encoding": {
            "x": {"field": "pt", "type": "quantitative", "scale": {"type": "log", "domain": [0.17, 325], "nice": false},
              "axis": {"orient": "bottom", "values": [0.2, 0.3, 0.4, 0.5, 0.6, 0.7, 0.8, 0.9, 2, 3, 4, 5, 6, 7, 8, 9, 20, 30, 40, 50, 60, 70, 80, 90, 200, 300], "labels": false, "ticks": true, "tickSize": -4, "domain": false, "grid": false, "title": null}},
            "y": {"field": "v", "type": "quantitative", "scale": {"domain": [0.4, 1.0], "nice": false, "zero": false},
              "axis": {"orient": "left", "values": [0.42, 0.44, 0.46, 0.48, 0.52, 0.54, 0.56, 0.58, 0.62, 0.64, 0.66, 0.68, 0.72, 0.74, 0.76, 0.78, 0.82, 0.84, 0.86, 0.88, 0.92, 0.94, 0.96, 0.98], "labels": false, "ticks": true, "tickSize": -4, "domain": false, "grid": false, "title": null}},
            "color": {"field": "s", "type": "nominal", "scale": {"domain": ["All iterations", "Prompt iterations", "Single iteration"], "range": ["#ff0000", "#00ff00", "#000000"]},
              "legend": {"orient": "none", "legendX": 92, "legendY": 190, "title": null, "padding": 0, "symbolSize": 169, "symbolStrokeColor": "transparent", "symbolStrokeWidth": 1, "symbolOpacity": 1, "rowPadding": 0.3, "labelOffset": 4, "labelFontSize": 10.5, "labelColor": "black"}},
            "shape": {"field": "s", "type": "nominal", "scale": {"domain": ["All iterations", "Prompt iterations", "Single iteration"], "range": ["M0.5,0A0.5,0.5,0,1,1,-0.5,0A0.5,0.5,0,1,1,0.5,0ZM-1,-0.077H1V0.077H-1ZM-0.01,-1H0.01V-0.99H-0.01ZM-0.01,0.99H0.01V1H-0.01Z", "M-0.55,-0.45H0.55L0,0.5ZM-1,-0.077H1V0.077H-1ZM-0.01,-1H0.01V-0.99H-0.01ZM-0.01,0.99H0.01V1H-0.01Z", "M-0.45,-0.45H0.45V0.45H-0.45ZM-1,-0.077H1V0.077H-1ZM-0.01,-1H0.01V-0.99H-0.01ZM-0.01,0.99H0.01V1H-0.01Z"]},
              "legend": {"orient": "none", "legendX": 92, "legendY": 190, "title": null, "padding": 0, "symbolSize": 169, "symbolStrokeColor": "transparent", "symbolStrokeWidth": 1, "symbolOpacity": 1, "rowPadding": 0.3, "labelOffset": 4, "labelFontSize": 10.5, "labelColor": "black"}}
          }
        },
        {
          "transform": [{"filter": "false"}],
          "mark": "point",
          "encoding": {
            "x": {"field": "pt", "type": "quantitative", "scale": {"type": "log", "domain": [0.17, 325], "nice": false},
              "axis": {"orient": "top", "values": [1, 10, 100], "labels": false, "ticks": true, "tickSize": -7, "domain": true, "domainWidth": 2, "grid": false, "title": null}},
            "y": {"field": "v", "type": "quantitative", "scale": {"domain": [0.4, 1.0], "nice": false, "zero": false},
              "axis": {"orient": "right", "values": [0.4, 0.5, 0.6, 0.7, 0.8, 0.9, 1.0], "labels": false, "ticks": true, "tickSize": -8, "domain": true, "domainWidth": 2, "grid": false, "title": null}}
          }
        },
        {
          "transform": [{"filter": "false"}],
          "mark": "point",
          "encoding": {
            "x": {"field": "pt", "type": "quantitative", "scale": {"type": "log", "domain": [0.17, 325], "nice": false},
              "axis": {"orient": "top", "values": [0.2, 0.3, 0.4, 0.5, 0.6, 0.7, 0.8, 0.9, 2, 3, 4, 5, 6, 7, 8, 9, 20, 30, 40, 50, 60, 70, 80, 90, 200, 300], "labels": false, "ticks": true, "tickSize": -4, "domain": false, "grid": false, "title": null}},
            "y": {"field": "v", "type": "quantitative", "scale": {"domain": [0.4, 1.0], "nice": false, "zero": false},
              "axis": {"orient": "right", "values": [0.42, 0.44, 0.46, 0.48, 0.52, 0.54, 0.56, 0.58, 0.62, 0.64, 0.66, 0.68, 0.72, 0.74, 0.76, 0.78, 0.82, 0.84, 0.86, 0.88, 0.92, 0.94, 0.96, 0.98], "labels": false, "ticks": true, "tickSize": -4, "domain": false, "grid": false, "title": null}}
          }
        }
      ]
    },
    {
      "width": 258,
      "height": 256,
      "data": {"name": "misreco"},
      "title": {"text": "CMS", "subtitle": "Simulation", "anchor": "start", "frame": "group", "orient": "top", "offset": -44, "dx": 9, "font": "Liberation Sans", "fontSize": 16, "fontWeight": "bold", "color": "black", "subtitleFont": "Liberation Sans", "subtitleFontSize": 12, "subtitleFontStyle": "italic", "subtitleColor": "#222", "subtitlePadding": 3},
      "resolve": {
        "scale": {"color": "independent", "shape": "independent"},
        "axis": {"x": "independent", "y": "independent"},
        "legend": {"color": "independent", "shape": "independent"}
      },
      "layer": [
        {
          "mark": {"type": "errorbar", "ticks": false, "thickness": 1, "clip": true},
          "encoding": {
            "x": {"field": "pt", "type": "quantitative", "scale": {"type": "log", "domain": [0.17, 325], "nice": false}, "axis": null},
            "y": {"field": "v", "type": "quantitative", "scale": {"domain": [0, 0.1], "nice": false, "zero": false}, "axis": null},
            "yError": {"field": "e"},
            "color": {"field": "s", "type": "nominal", "scale": {"domain": ["All iterations", "Prompt iterations", "Single iteration"], "range": ["#ff0000", "#00ff00", "#000000"]}, "legend": null}
          }
        },
        {
          "mark": {"type": "point", "filled": true, "size": 40, "opacity": 1, "clip": true},
          "encoding": {
            "x": {"field": "pt", "type": "quantitative", "scale": {"type": "log", "domain": [0.17, 325], "nice": false},
              "axis": {"orient": "bottom", "values": [1, 10, 100], "labelExpr": "datum.value == 1 ? '1' : datum.value == 10 ? '10' : '10²'", "labelPadding": 9, "ticks": false, "domain": true, "domainWidth": 2, "grid": true, "gridColor": "#888", "gridDash": [1, 2], "gridWidth": 1, "title": "p\u00a0\u00a0\u00a0(GeV)", "titleFontSize": 15, "titleX": 258, "titleY": 31, "titleAlign": "right", "titleBaseline": "alphabetic"}},
            "y": {"field": "v", "type": "quantitative", "scale": {"domain": [0, 0.1], "nice": false, "zero": false},
              "axis": {"orient": "left", "values": [0, 0.01, 0.02, 0.03, 0.04, 0.05, 0.06, 0.07, 0.08, 0.09, 0.1], "format": ".2f", "labelPadding": 4, "ticks": false, "domain": true, "domainWidth": 2, "grid": true, "gridColor": "#888", "gridDash": [1, 2], "gridWidth": 1, "title": "Misreconstruction rate", "titleFontSize": 16, "titleAngle": -90, "titleX": -41, "titleY": 0, "titleAlign": "right", "titleBaseline": "alphabetic"}},
            "color": {"field": "s", "type": "nominal", "scale": {"domain": ["All iterations", "Prompt iterations", "Single iteration"], "range": ["#ff0000", "#00ff00", "#000000"]}, "legend": null},
            "shape": {"field": "s", "type": "nominal", "scale": {"domain": ["All iterations", "Prompt iterations", "Single iteration"], "range": ["circle", "triangle-down", "square"]}, "legend": null}
          }
        },
        {
          "transform": [{"filter": "false"}],
          "mark": {"type": "point", "filled": false, "color": "#ff0000", "strokeWidth": 1},
          "encoding": {
            "x": {"field": "pt", "type": "quantitative", "scale": {"type": "log", "domain": [0.17, 325], "nice": false},
              "axis": {"orient": "bottom", "values": [1, 10, 100], "labels": false, "ticks": true, "tickSize": -7, "domain": false, "grid": false, "title": "T", "titleFontSize": 10, "titleX": 208, "titleY": 34, "titleAlign": "left", "titleBaseline": "alphabetic"}},
            "y": {"field": "v", "type": "quantitative", "scale": {"domain": [0, 0.1], "nice": false, "zero": false},
              "axis": {"orient": "left", "values": [0, 0.01, 0.02, 0.03, 0.04, 0.05, 0.06, 0.07, 0.08, 0.09, 0.1], "labels": false, "ticks": true, "tickSize": -8, "domain": false, "grid": false, "title": null}},
            "shape": {"field": "s", "type": "nominal", "scale": {"domain": ["All iterations", "Prompt iterations", "Single iteration"], "range": ["square", "square", "square"]},
              "legend": {"orient": "none", "legendX": 92, "legendY": 7, "title": null, "padding": 0, "symbolSize": 169, "symbolStrokeColor": "#ff0000", "symbolStrokeWidth": 1, "symbolFillColor": "transparent", "symbolOpacity": 1, "labelOpacity": 0, "rowPadding": -0.8, "labelOffset": 4, "labelFontSize": 10.5}}
          }
        },
        {
          "transform": [{"filter": "false"}],
          "mark": {"type": "point", "filled": true},
          "encoding": {
            "x": {"field": "pt", "type": "quantitative", "scale": {"type": "log", "domain": [0.17, 325], "nice": false},
              "axis": {"orient": "bottom", "values": [0.2, 0.3, 0.4, 0.5, 0.6, 0.7, 0.8, 0.9, 2, 3, 4, 5, 6, 7, 8, 9, 20, 30, 40, 50, 60, 70, 80, 90, 200, 300], "labels": false, "ticks": true, "tickSize": -4, "domain": false, "grid": false, "title": null}},
            "y": {"field": "v", "type": "quantitative", "scale": {"domain": [0, 0.1], "nice": false, "zero": false},
              "axis": {"orient": "left", "values": [0.002, 0.004, 0.006, 0.008, 0.012, 0.014, 0.016, 0.018, 0.022, 0.024, 0.026, 0.028, 0.032, 0.034, 0.036, 0.038, 0.042, 0.044, 0.046, 0.048, 0.052, 0.054, 0.056, 0.058, 0.062, 0.064, 0.066, 0.068, 0.072, 0.074, 0.076, 0.078, 0.082, 0.084, 0.086, 0.088, 0.092, 0.094, 0.096, 0.098], "labels": false, "ticks": true, "tickSize": -4, "domain": false, "grid": false, "title": null}},
            "color": {"field": "s", "type": "nominal", "scale": {"domain": ["All iterations", "Prompt iterations", "Single iteration"], "range": ["#ff0000", "#00ff00", "#000000"]},
              "legend": {"orient": "none", "legendX": 92, "legendY": 7, "title": null, "padding": 0, "symbolSize": 169, "symbolStrokeColor": "transparent", "symbolStrokeWidth": 1, "symbolOpacity": 1, "rowPadding": -0.8, "labelOffset": 4, "labelFontSize": 10.5, "labelColor": "black"}},
            "shape": {"field": "s", "type": "nominal", "scale": {"domain": ["All iterations", "Prompt iterations", "Single iteration"], "range": ["M0.5,0A0.5,0.5,0,1,1,-0.5,0A0.5,0.5,0,1,1,0.5,0ZM-1,-0.077H1V0.077H-1ZM-0.01,-1H0.01V-0.99H-0.01ZM-0.01,0.99H0.01V1H-0.01Z", "M-0.55,-0.45H0.55L0,0.5ZM-1,-0.077H1V0.077H-1ZM-0.01,-1H0.01V-0.99H-0.01ZM-0.01,0.99H0.01V1H-0.01Z", "M-0.45,-0.45H0.45V0.45H-0.45ZM-1,-0.077H1V0.077H-1ZM-0.01,-1H0.01V-0.99H-0.01ZM-0.01,0.99H0.01V1H-0.01Z"]},
              "legend": {"orient": "none", "legendX": 92, "legendY": 7, "title": null, "padding": 0, "symbolSize": 169, "symbolStrokeColor": "transparent", "symbolStrokeWidth": 1, "symbolOpacity": 1, "rowPadding": -0.8, "labelOffset": 4, "labelFontSize": 10.5, "labelColor": "black"}}
          }
        },
        {
          "transform": [{"filter": "false"}],
          "mark": "point",
          "encoding": {
            "x": {"field": "pt", "type": "quantitative", "scale": {"type": "log", "domain": [0.17, 325], "nice": false},
              "axis": {"orient": "top", "values": [1, 10, 100], "labels": false, "ticks": true, "tickSize": -7, "domain": true, "domainWidth": 2, "grid": false, "title": null}},
            "y": {"field": "v", "type": "quantitative", "scale": {"domain": [0, 0.1], "nice": false, "zero": false},
              "axis": {"orient": "right", "values": [0, 0.01, 0.02, 0.03, 0.04, 0.05, 0.06, 0.07, 0.08, 0.09, 0.1], "labels": false, "ticks": true, "tickSize": -8, "domain": true, "domainWidth": 2, "grid": false, "title": null}}
          }
        },
        {
          "transform": [{"filter": "false"}],
          "mark": "point",
          "encoding": {
            "x": {"field": "pt", "type": "quantitative", "scale": {"type": "log", "domain": [0.17, 325], "nice": false},
              "axis": {"orient": "top", "values": [0.2, 0.3, 0.4, 0.5, 0.6, 0.7, 0.8, 0.9, 2, 3, 4, 5, 6, 7, 8, 9, 20, 30, 40, 50, 60, 70, 80, 90, 200, 300], "labels": false, "ticks": true, "tickSize": -4, "domain": false, "grid": false, "title": null}},
            "y": {"field": "v", "type": "quantitative", "scale": {"domain": [0, 0.1], "nice": false, "zero": false},
              "axis": {"orient": "right", "values": [0.002, 0.004, 0.006, 0.008, 0.012, 0.014, 0.016, 0.018, 0.022, 0.024, 0.026, 0.028, 0.032, 0.034, 0.036, 0.038, 0.042, 0.044, 0.046, 0.048, 0.052, 0.054, 0.056, 0.058, 0.062, 0.064, 0.066, 0.068, 0.072, 0.074, 0.076, 0.078, 0.082, 0.084, 0.086, 0.088, 0.092, 0.094, 0.096, 0.098], "labels": false, "ticks": true, "tickSize": -4, "domain": false, "grid": false, "title": null}}
          }
        }
      ]
    }
  ]
}
